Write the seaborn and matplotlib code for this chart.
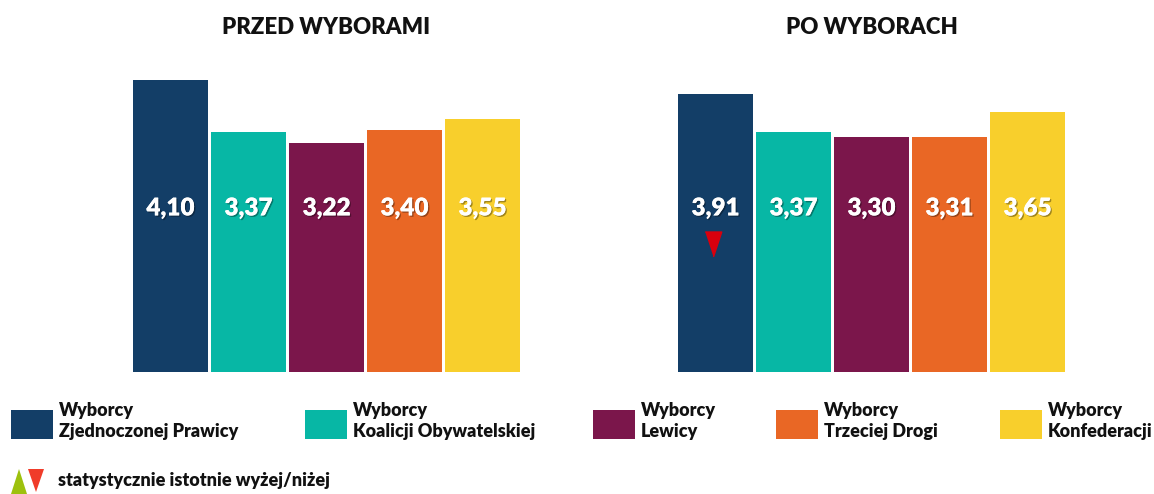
import matplotlib.pyplot as plt
import matplotlib.patheffects as pe
from matplotlib.patches import Rectangle, Polygon
import seaborn as sns
import pandas as pd

# data
groups = ['Zjednoczona Prawica', 'Koalicja Obywatelska', 'Lewica', 'Trzecia Droga', 'Konfederacja']
przed = [4.10, 3.37, 3.22, 3.40, 3.55]
po = [3.91, 3.37, 3.30, 3.31, 3.65]
po_signif = ['down', None, None, None, None]
panel_titles = ['PRZED WYBORAMI', 'PO WYBORACH']
legend_labels = ['Wyborcy\nZjednoczonej Prawicy', 'Wyborcy\nKoalicji Obywatelskiej',
                 'Wyborcy\nLewicy', 'Wyborcy\nTrzeciej Drogi', 'Wyborcy\nKonfederacji']
colors = ['#133e67', '#07b7a5', '#7b164b', '#e96725', '#f8cf2c']

sns.set_style('white')
plt.rcParams['font.family'] = ['Lato', 'DejaVu Sans']
plt.rcParams['font.weight'] = 'heavy'

W, H = 1154, 494
fig = plt.figure(figsize=(W / 100, H / 100), dpi=100)

def px_axes(x0, x1, y0, y1):
    return fig.add_axes([x0 / W, 1 - y1 / H, (x1 - x0) / W, (y1 - y0) / H])

ax1 = px_axes(131.5, 521.5, 59, 372)
ax2 = px_axes(676.5, 1066.5, 59, 372)

shadow = [pe.withSimplePatchShadow(offset=(1, -1), shadow_rgbFace='black', alpha=0.35), pe.Normal()]

for ax, vals, title, sig in [(ax1, przed, panel_titles[0], [None] * 5),
                             (ax2, po, panel_titles[1], po_signif)]:
    df = pd.DataFrame({'group': groups, 'value': vals})
    sns.barplot(data=df, x='group', y='value', hue='group', palette=colors,
                width=0.962, legend=False, ax=ax, saturation=1, edgecolor='none')
    ax.set_xlim(-0.5, 4.5)
    ax.set_ylim(0, 4.4)
    ax.axis('off')
    ax.set_title(title, fontsize=16, fontweight='heavy', color='#111111', pad=18)
    for i, v in enumerate(vals):
        ax.text(i, 2.3, f'{v:.2f}'.replace('.', ','), ha='center', va='center',
                color='white', fontsize=17.5, fontweight='heavy', path_effects=shadow)
        if sig[i] == 'down':
            ax.plot(i - 0.03, 1.8, marker=[(-0.66, 1), (0.66, 1), (0, -1)],
                    markersize=18, color='#d9000d', linestyle='none')

# legend
sq_x = [11, 305, 593, 776, 1000]
for x, c, lab in zip(sq_x, colors, legend_labels):
    fig.add_artist(Rectangle((x / W, 1 - 439 / H), 42 / W, 29 / H,
                             transform=fig.transFigure, color=c, lw=0))
    fig.text((x + 48) / W, 1 - 402 / H, lab, ha='left', va='top', fontsize=13,
             fontweight='heavy', color='#111111', linespacing=1.3)

def tri(pts, c):
    fig.add_artist(Polygon([(px / W, 1 - py / H) for px, py in pts],
                           transform=fig.transFigure, color=c, lw=0))

tri([(11, 494), (27, 494), (19, 469)], '#9dc10d')
tri([(28, 469), (44, 469), (36, 492)], '#f03c2a')
fig.text(58 / W, 1 - 480 / H, 'statystycznie istotnie wyżej/niżej', ha='left', va='center',
         fontsize=13, fontweight='heavy', color='#111111')

fig.savefig('out.png', dpi=100)
